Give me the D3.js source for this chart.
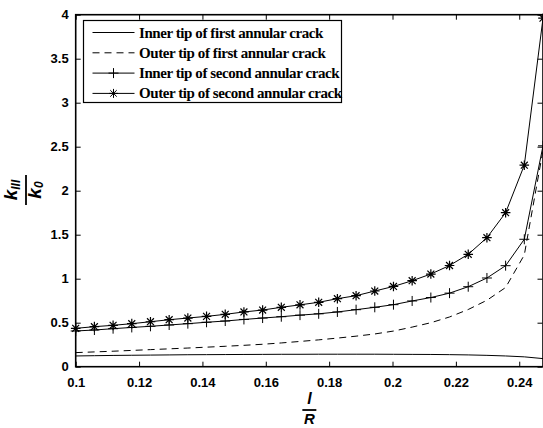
<!DOCTYPE html>
<html>
<head>
<meta charset="utf-8">
<script src="https://cdn.jsdelivr.net/npm/d3@7"></script>
<style>
  html, body { margin: 0; padding: 0; background: #fff; }
  svg { display: block; }
</style>
</head>
<body>
<svg id="chart" width="543" height="428"></svg>
<script>
// ---- data ----
const xValues = [0.1000, 0.1059, 0.1118, 0.1177, 0.1236, 0.1295, 0.1354, 0.1413, 0.1472, 0.1531,
                 0.1590, 0.1649, 0.1708, 0.1767, 0.1826, 0.1885, 0.1944, 0.2003, 0.2062, 0.2121,
                 0.2180, 0.2239, 0.2298, 0.2357, 0.2416, 0.2475];
const innerFirst = [0.122, 0.125, 0.128, 0.130, 0.132, 0.134, 0.136, 0.137, 0.138, 0.139,
                    0.140, 0.141, 0.141, 0.142, 0.142, 0.142, 0.142, 0.141, 0.140, 0.139,
                    0.137, 0.134, 0.129, 0.122, 0.112, 0.092];
const outerFirst = [0.160, 0.168, 0.176, 0.185, 0.194, 0.203, 0.212, 0.222, 0.232, 0.243,
                    0.255, 0.270, 0.287, 0.305, 0.325, 0.347, 0.372, 0.405, 0.450, 0.500,
                    0.565, 0.650, 0.755, 0.900, 1.270, 2.460];
const innerSecond = [0.406, 0.417, 0.432, 0.446, 0.459, 0.474, 0.489, 0.505, 0.519, 0.537,
                     0.553, 0.568, 0.586, 0.601, 0.622, 0.648, 0.675, 0.705, 0.747, 0.786,
                     0.836, 0.909, 1.008, 1.148, 1.448, 2.510];
const outerSecond = [0.436, 0.455, 0.470, 0.489, 0.511, 0.534, 0.553, 0.572, 0.595, 0.622,
                     0.644, 0.675, 0.703, 0.732, 0.773, 0.807, 0.860, 0.912, 0.977, 1.053,
                     1.150, 1.277, 1.466, 1.750, 2.290, 3.960];
const seriesNames = ["Inner tip of first annular crack", "Outer tip of first annular crack",
                     "Inner tip of second annular crack", "Outer tip of second annular crack"];
const xTicks = [0.1, 0.12, 0.14, 0.16, 0.18, 0.2, 0.22, 0.24];
const xTickLabels = ["0.1", "0.12", "0.14", "0.16", "0.18", "0.2", "0.22", "0.24"];
const yTicks = [0, 0.5, 1, 1.5, 2, 2.5, 3, 3.5, 4];
const yTickLabels = ["0", "0.5", "1", "1.5", "2", "2.5", "3", "3.5", "4"];
const xDomain = [0.1, 0.2475];
const yDomain = [0, 4];

// ---- layout ----
const svg = d3.select("#chart");
const pLeft = 75.7, pRight = 543, pTop = 14.7, pBottom = 366.7;
const x = d3.scaleLinear().domain(xDomain).range([pLeft, pRight]);
const y = d3.scaleLinear().domain(yDomain).range([pBottom, pTop]);

const tickFont = "'Liberation Sans', Arial, sans-serif";
const tickLen = 5;

// frame
svg.append("rect").attr("x", pLeft).attr("y", pTop)
  .attr("width", pRight - pLeft).attr("height", pBottom - pTop)
  .attr("fill", "none").attr("stroke", "#000").attr("stroke-width", 1.6);

// bottom axis (inward ticks)
const xAxis = d3.axisBottom(x).tickValues(xTicks)
  .tickFormat((d, i) => xTickLabels[i]).tickSizeInner(-tickLen).tickSizeOuter(0).tickPadding(11);
const gx = svg.append("g").attr("transform", `translate(0,${pBottom})`).call(xAxis);
gx.select(".domain").remove();
gx.selectAll("text").attr("font-family", tickFont).attr("font-weight", "bold")
  .attr("font-size", 13).attr("fill", "#000");
gx.selectAll("line").attr("stroke", "#000");

// top ticks
const xAxisTop = d3.axisTop(x).tickValues(xTicks).tickFormat("").tickSizeInner(-tickLen).tickSizeOuter(0);
const gxt = svg.append("g").attr("transform", `translate(0,${pTop})`).call(xAxisTop);
gxt.select(".domain").remove();
gxt.selectAll("line").attr("stroke", "#000");

// left axis
const yAxis = d3.axisLeft(y).tickValues(yTicks)
  .tickFormat((d, i) => yTickLabels[i]).tickSizeInner(-tickLen).tickSizeOuter(0).tickPadding(7);
const gy = svg.append("g").attr("transform", `translate(${pLeft},0)`).call(yAxis);
gy.select(".domain").remove();
gy.selectAll("text").attr("font-family", tickFont).attr("font-weight", "bold")
  .attr("font-size", 13).attr("fill", "#000");
gy.selectAll("line").attr("stroke", "#000");

// right ticks
const yAxisRight = d3.axisRight(y).tickValues(yTicks).tickFormat("").tickSizeInner(-tickLen).tickSizeOuter(0);
const gyr = svg.append("g").attr("transform", `translate(${pRight - 0.5},0)`).call(yAxisRight);
gyr.select(".domain").remove();
gyr.selectAll("line").attr("stroke", "#000");

// ---- lines ----
const line = d3.line().x((d, i) => x(xValues[i])).y(d => y(d));
const allSeries = [innerFirst, outerFirst, innerSecond, outerSecond];
const dashes = [null, "7,5", null, null];
const markers = [null, null, "plus", "star"];

const plot = svg.append("g");
function markerPath(type, s) {
  if (type === "plus") return `M${-s},0H${s}M0,${-s}V${s}`;
  const d = s * 0.72;
  return `M${-s},0H${s}M0,${-s}V${s}M${-d},${-d}L${d},${d}M${-d},${d}L${d},${-d}`;
}
allSeries.forEach((ser, k) => {
  plot.append("path").datum(ser).attr("d", line)
    .attr("fill", "none").attr("stroke", "#000").attr("stroke-width", 1)
    .attr("stroke-dasharray", dashes[k]);
  if (markers[k]) {
    plot.selectAll(null).data(ser).enter().append("path")
      .attr("transform", (d, i) => `translate(${x(xValues[i])},${y(d)})`)
      .attr("d", markerPath(markers[k], markers[k] === "plus" ? 5 : 4.8))
      .attr("fill", "none").attr("stroke", "#000").attr("stroke-width", markers[k] === "plus" ? 1 : 1.2);
  }
});

// ---- legend ----
const lg = svg.append("g");
const lgX = 83.5, lgY = 20.5, lgW = 258, lgH = 82;
lg.append("rect").attr("x", lgX).attr("y", lgY).attr("width", lgW).attr("height", lgH)
  .attr("fill", "#fff").attr("stroke", "#000").attr("stroke-width", 1.2);
seriesNames.forEach((name, k) => {
  const cy = lgY + 12 + k * 20.3;
  lg.append("line").attr("x1", lgX + 9).attr("x2", lgX + 51).attr("y1", cy).attr("y2", cy)
    .attr("stroke", "#000").attr("stroke-width", 1).attr("stroke-dasharray", dashes[k]);
  if (markers[k]) {
    lg.append("path").attr("transform", `translate(${lgX + 30},${cy})`)
      .attr("d", markerPath(markers[k], markers[k] === "plus" ? 5 : 4.5))
      .attr("fill", "none").attr("stroke", "#000").attr("stroke-width", 1);
  }
  lg.append("text").attr("x", lgX + 55.5).attr("y", cy + 5)
    .attr("font-family", "'Liberation Serif', 'Times New Roman', serif")
    .attr("font-weight", "bold").attr("font-size", 15).attr("letter-spacing", -0.42)
    .attr("fill", "#000")
    .text(name);
});

// ---- axis labels ----
const labFont = "'Liberation Sans', Arial, sans-serif";
// x label: l / R
const xl = svg.append("g").attr("transform", `translate(${(pLeft + pRight) / 2},0)`);
xl.append("text").attr("x", 0).attr("y", 404).attr("text-anchor", "middle")
  .attr("font-family", labFont).attr("font-style", "italic").attr("font-weight", "bold")
  .attr("font-size", 16).text("l");
xl.append("line").attr("x1", -7).attr("x2", 7).attr("y1", 410).attr("y2", 410)
  .attr("stroke", "#000").attr("stroke-width", 1.8);
xl.append("text").attr("x", 0).attr("y", 424).attr("text-anchor", "middle")
  .attr("font-family", labFont).attr("font-style", "italic").attr("font-weight", "bold")
  .attr("font-size", 15).text("R");

// y label: k_III / k_0 (rotated)
const yl = svg.append("g").attr("transform", `translate(26,190) rotate(-90)`);
const num = yl.append("text").attr("x", 0).attr("y", -9).attr("text-anchor", "middle")
  .attr("font-family", labFont).attr("font-style", "italic").attr("font-weight", "bold")
  .attr("font-size", 19);
num.append("tspan").text("k");
num.append("tspan").attr("font-size", 12).attr("dy", 3).text("III");
yl.append("line").attr("x1", -15).attr("x2", 15).attr("y1", 0).attr("y2", 0)
  .attr("stroke", "#000").attr("stroke-width", 1.8);
const den = yl.append("text").attr("x", 0).attr("y", 15).attr("text-anchor", "middle")
  .attr("font-family", labFont).attr("font-style", "italic").attr("font-weight", "bold")
  .attr("font-size", 19);
den.append("tspan").text("k");
den.append("tspan").attr("font-size", 12).attr("dy", 2).text("0");
</script>
</body>
</html>
